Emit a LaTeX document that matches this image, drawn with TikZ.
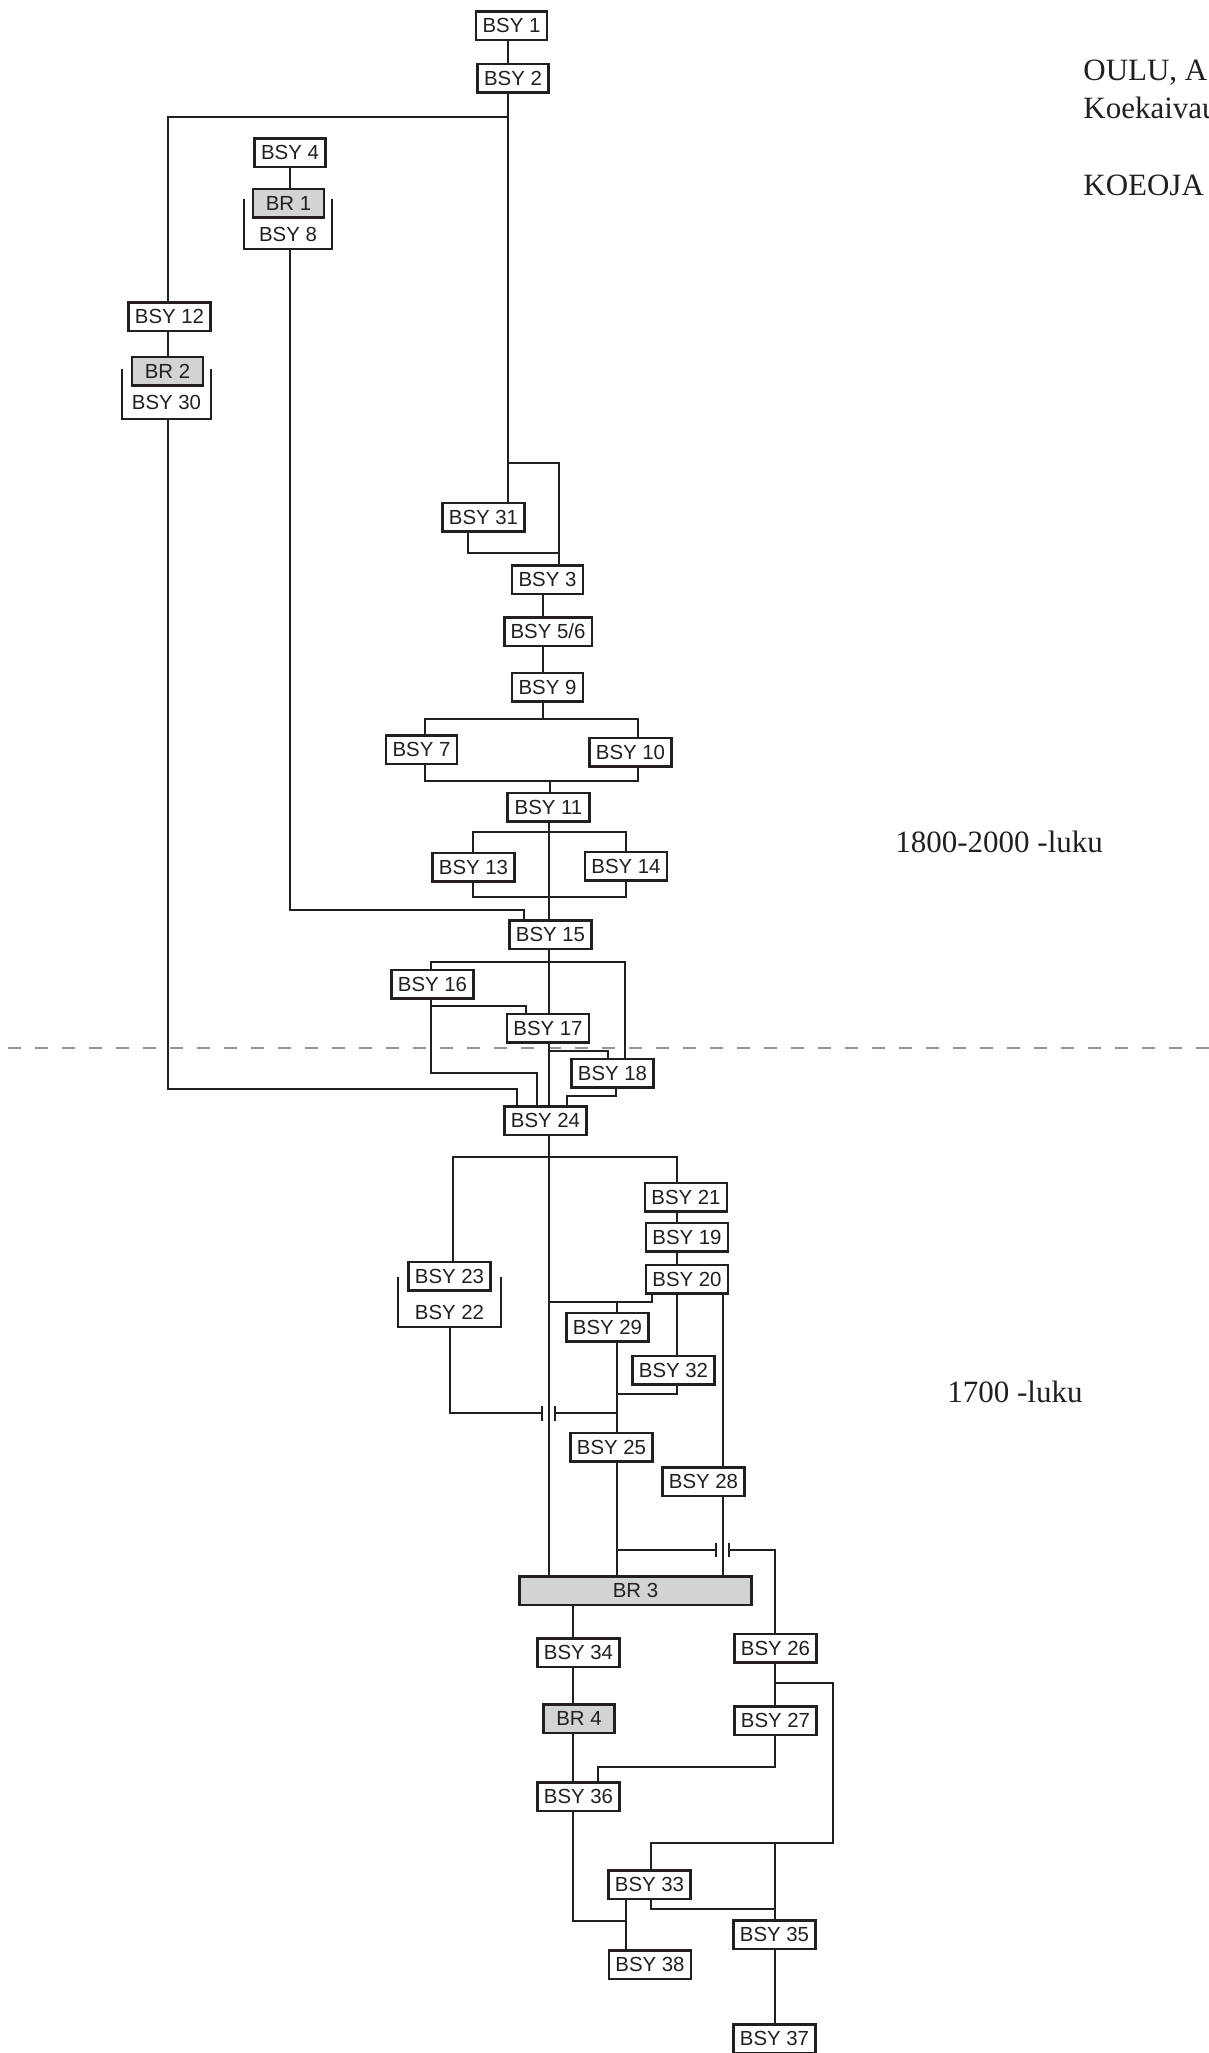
\documentclass[tikz,border=0pt]{standalone}
\usepackage{fontspec}
\setmainfont{Liberation Serif}
\newfontfamily\boxfont{Liberation Sans}
\usetikzlibrary{positioning}
\definecolor{ink}{HTML}{231F20}
\definecolor{brgrey}{HTML}{D1D3D4}
\definecolor{dashgrey}{HTML}{939598}

\begin{document}
\begin{tikzpicture}[
  x=0.5pt, y=-0.5pt,
  box/.style={rectangle, draw=ink, line width=1.25pt, fill=white, minimum width=41pt, minimum height=14.25pt, inner sep=0pt, text=ink, font=\boxfont\fontsize{10.2}{12}\selectfont},
  narrow/.style={box, minimum width=35.5pt},
  br/.style={fill=brgrey},
  grp/.style={rectangle, minimum width=#1, minimum height=25pt, inner sep=0pt},
  lbl/.style={inner sep=0pt, text=ink, font=\boxfont\fontsize{10.2}{12}\selectfont},
  link/.style={draw=ink, line width=1pt},
  title/.style={anchor=base west, inner sep=0pt, text=ink, font=\fontsize{15.5}{18}\selectfont},
]
\useasboundingbox (0,0) rectangle (1209,2053);

% period boundary
\draw[dashgrey, line width=1.3pt, dash pattern=on 6.5pt off 7pt] (8,1048) -- (1215,1048);

% heading and periods
\node[title] (head1) at (1083,80) {OULU, A};
\node[title] (head2) at (1083,118) {Koekaivau};
\node[title] (head3) at (1083,195) {KOEOJA};
\node[title] (late) at (895,852) {1800-2000 -luku};
\node[title] (early) at (947,1402) {1700 -luku};

% units
\node[narrow] (bsy1) at (511.5,25.5) {BSY 1};
\node[narrow] (bsy2) at (513,78) {BSY 2};
\node[narrow] (bsy4) at (290,152.5) {BSY 4};
\node[grp=44pt] (bsy8) at (288,224) {};
\node[lbl] (bsy8txt) at (288,234) {BSY 8};
\node[narrow, br] (br1) at (288.5,203) {BR 1};
\node[box] (bsy12) at (169.5,316.5) {BSY 12};
\node[grp=44pt] (bsy30) at (166.5,394) {};
\node[lbl] (bsy30txt) at (166.5,402) {BSY 30};
\node[narrow, br] (br2) at (167.5,371) {BR 2};
\node[box] (bsy31) at (483.5,517) {BSY 31};
\node[narrow] (bsy3) at (547.5,579.5) {BSY 3};
\node[box, minimum width=43.75pt] (bsy56) at (548,631.5) {BSY 5/6};
\node[narrow] (bsy9) at (547.5,687) {BSY 9};
\node[narrow] (bsy7) at (421.5,749.5) {BSY 7};
\node[box] (bsy10) at (630.5,752) {BSY 10};
\node[box] (bsy11) at (548.5,807) {BSY 11};
\node[box] (bsy13) at (473.5,867) {BSY 13};
\node[box] (bsy14) at (626,866) {BSY 14};
\node[box] (bsy15) at (550.5,934.5) {BSY 15};
\node[box] (bsy16) at (432.5,984) {BSY 16};
\node[box] (bsy17) at (548,1028) {BSY 17};
\node[box] (bsy18) at (612.5,1073) {BSY 18};
\node[box] (bsy24) at (545.5,1120.5) {BSY 24};
\node[box] (bsy21) at (686,1197) {BSY 21};
\node[box] (bsy19) at (687,1237) {BSY 19};
\node[box] (bsy20) at (687,1279) {BSY 20};
\node[grp=51pt] (bsy22) at (449.5,1302) {};
\node[lbl] (bsy22txt) at (449.5,1312) {BSY 22};
\node[box] (bsy23) at (449.5,1276) {BSY 23};
\node[box] (bsy29) at (607.5,1327) {BSY 29};
\node[box] (bsy32) at (673.5,1370) {BSY 32};
\node[box] (bsy25) at (611.5,1447) {BSY 25};
\node[box] (bsy28) at (703.5,1481.5) {BSY 28};
\node[box, br, minimum width=116pt] (br3) at (635.5,1590.5) {BR 3};
\node[box] (bsy26) at (775.5,1648) {BSY 26};
\node[box] (bsy34) at (578.5,1652.5) {BSY 34};
\node[narrow, br] (br4) at (579,1718.5) {BR 4};
\node[box] (bsy27) at (775.5,1720.5) {BSY 27};
\node[box] (bsy36) at (578.5,1796.5) {BSY 36};
\node[box] (bsy33) at (649.5,1884.5) {BSY 33};
\node[box] (bsy35) at (774.5,1934.5) {BSY 35};
\node[box] (bsy38) at (650,1964.5) {BSY 38};
\node[box] (bsy37) at (774.5,2038.5) {BSY 37};

% brackets round the paired units
\foreach \g in {bsy8, bsy30, bsy22}
  \draw[link] (\g.north west) |- (\g.south east) -- (\g.north east);

% upper part
\draw[link] (508,0 |- bsy1.south) -- (508,0 |- bsy2.north);
\draw[link] (508,0 |- bsy2.south) -- (508,0 |- bsy31.north);
\draw[link] (508,117) -| (168,0 |- bsy12.north);
\draw[link] (290,0 |- bsy4.south) -- (290,0 |- br1.north);
\draw[link] (168,0 |- bsy12.south) -- (168,0 |- br2.north);
\draw[link] (508,463) -| (559,0 |- bsy3.north);
\draw[link] (468,0 |- bsy31.south) |- (559,553);
\draw[link] (543,0 |- bsy3.south) -- (543,0 |- bsy56.north);
\draw[link] (543,0 |- bsy56.south) -- (543,0 |- bsy9.north);
\draw[link] (543,0 |- bsy9.south) -- (543,719);
\draw[link] (425,0 |- bsy7.north) |- (638,719) -- (638,0 |- bsy10.north);
\draw[link] (425,0 |- bsy7.south) |- (638,781) -- (638,0 |- bsy10.south);
\draw[link] (550,781) -- (550,0 |- bsy11.north);
\draw[link] (549,0 |- bsy11.south) -- (549,0 |- bsy15.north);
\draw[link] (473,0 |- bsy13.north) |- (626,832) -- (626,0 |- bsy14.north);
\draw[link] (473,0 |- bsy13.south) |- (626,897) -- (626,0 |- bsy14.south);
\draw[link] (290,0 |- bsy8.south) |- (524,910) -- (524,0 |- bsy15.north);
\draw[link] (549,0 |- bsy15.south) -- (549,0 |- bsy17.north);
\draw[link] (431,0 |- bsy16.north) |- (625,962) -- (625,0 |- bsy18.north);
\draw[link] (431,0 |- bsy16.south) -- (431,1073) -| (537,0 |- bsy24.north);
\draw[link] (431,1006) -| (526,0 |- bsy17.north);
\draw[link] (549,0 |- bsy17.south) -- (549,0 |- bsy24.north);
\draw[link] (549,1051) -| (608,0 |- bsy18.north);
\draw[link] (616,0 |- bsy18.south) |- (567,1096) -- (567,0 |- bsy24.north);
\draw[link] (168,0 |- bsy30.south) |- (517,1089) -- (517,0 |- bsy24.north);

% lower part
\draw[link] (549,0 |- bsy24.south) -- (549,0 |- br3.north);
\draw[link] (453,0 |- bsy23.north) |- (677,1157) -- (677,0 |- bsy21.north);
\draw[link] (677,0 |- bsy21.south) -- (677,0 |- bsy19.north);
\draw[link] (677,0 |- bsy19.south) -- (677,0 |- bsy20.north);
\draw[link] (652,0 |- bsy20.south) |- (549,1302);
\draw[link] (617,1302) -- (617,0 |- bsy29.north);
\draw[link] (677,0 |- bsy20.south) -- (677,0 |- bsy32.north);
\draw[link] (677,0 |- bsy32.south) |- (617,1394);
\draw[link] (617,0 |- bsy29.south) -- (617,0 |- bsy25.north);
\draw[link] (450,0 |- bsy22.south) |- (542,1413);
\draw[link] (542,1406) -- (542,1421) (555,1406) -- (555,1421);
\draw[link] (555,1413) -- (617,1413);
\draw[link] (723,0 |- bsy20.south) -- (723,0 |- bsy28.north);
\draw[link] (617,0 |- bsy25.south) -- (617,0 |- br3.north);
\draw[link] (723,0 |- bsy28.south) -- (723,0 |- br3.north);
\draw[link] (617,1550) -- (716,1550);
\draw[link] (716,1543) -- (716,1557) (729,1543) -- (729,1557);
\draw[link] (729,1550) -| (775,0 |- bsy26.north);
\draw[link] (573,0 |- br3.south) -- (573,0 |- bsy34.north);
\draw[link] (573,0 |- bsy34.south) -- (573,0 |- br4.north);
\draw[link] (573,0 |- br4.south) -- (573,0 |- bsy36.north);
\draw[link] (775,0 |- bsy26.south) -- (775,0 |- bsy27.north);
\draw[link] (775,1683) -| (833,1843) -| (651,0 |- bsy33.north);
\draw[link] (775,1843) -- (775,0 |- bsy35.north);
\draw[link] (775,0 |- bsy27.south) |- (598,1767) -- (598,0 |- bsy36.north);
\draw[link] (651,0 |- bsy33.south) |- (775,1909);
\draw[link] (626,0 |- bsy33.south) -- (626,0 |- bsy38.north);
\draw[link] (573,0 |- bsy36.south) |- (626,1921);
\draw[link] (775,0 |- bsy35.south) -- (775,0 |- bsy37.north);
\end{tikzpicture}
\end{document}
